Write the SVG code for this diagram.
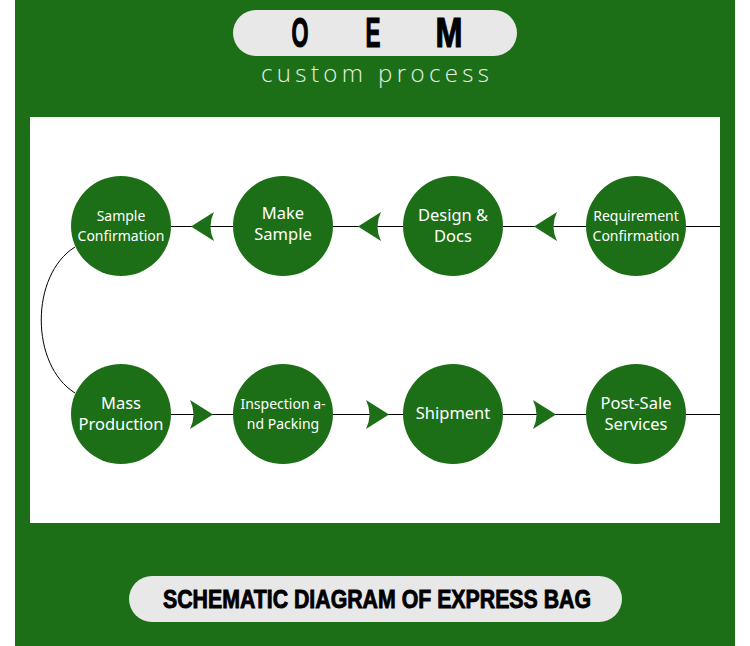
<svg xmlns="http://www.w3.org/2000/svg" width="750" height="646" viewBox="0 0 750 646">
<defs>
<style>
.bg{fill:#1d6f17}
.pill{fill:#e8e8e8}
.node{fill:#1d6f17}
.lbl{font-family:"Noto Sans","DejaVu Sans",sans-serif;fill:#ffffff;text-anchor:middle}
.s14{font-size:14px}
.s17{font-size:16.5px}
.line{stroke:#000;stroke-width:1;fill:none}
.arrow{fill:#1d6f17}
.oem{font-family:"Liberation Sans",Arial,sans-serif;font-weight:bold;font-size:42px;fill:#000;stroke:#000;stroke-width:1.2;text-anchor:middle}
</style>
</defs>
<rect x="0" y="0" width="750" height="646" fill="#ffffff"/>
<rect class="bg" x="15" y="0" width="720" height="646"/>
<rect x="30" y="117" width="690" height="406" fill="#ffffff"/>

<g id="title">
<rect class="pill" x="233" y="10" width="284" height="46" rx="23"/>
<text class="oem" x="300" y="47" textLength="17" lengthAdjust="spacingAndGlyphs">O</text>
<text class="oem" x="373" y="47" textLength="15" lengthAdjust="spacingAndGlyphs">E</text>
<text class="oem" x="449" y="47" textLength="27" lengthAdjust="spacingAndGlyphs">M</text>
<text x="261" y="82" font-family="'Open Sans','Lato',sans-serif" font-weight="300" font-size="24" fill="#e6efe6" textLength="228" lengthAdjust="spacing">custom process</text>
</g>

<g id="connectors">
<line class="line" x1="171" y1="226.5" x2="720" y2="226.5"/>
<line class="line" x1="171" y1="414.5" x2="720" y2="414.5"/>
<path class="line" d="M75,247 C30,275 30,365 75,393"/>
<path class="arrow" d="M191,226.5 L214,212 Q207,226.5 214,241 Z"/>
<path class="arrow" d="M358,226.5 L381,212 Q374,226.5 381,241 Z"/>
<path class="arrow" d="M534,226.5 L557,212 Q550,226.5 557,241 Z"/>
<path class="arrow" d="M213,414.5 L190,400 Q197,414.5 190,429 Z"/>
<path class="arrow" d="M389,414.5 L366,400 Q373,414.5 366,429 Z"/>
<path class="arrow" d="M556,414.5 L533,400 Q540,414.5 533,429 Z"/>
</g>

<g id="sample-confirmation">
<circle class="node" cx="121" cy="226" r="50"/>
<text class="lbl s14" x="121" y="221">Sample</text>
<text class="lbl s14" x="121" y="241">Confirmation</text>
</g>
<g id="make-sample">
<circle class="node" cx="283" cy="226" r="50"/>
<text class="lbl s17" x="283" y="219">Make</text>
<text class="lbl s17" x="283" y="240">Sample</text>
</g>
<g id="design-docs">
<circle class="node" cx="453" cy="226" r="50"/>
<text class="lbl s17" x="453" y="221">Design &amp;</text>
<text class="lbl s17" x="453" y="242">Docs</text>
</g>
<g id="requirement-confirmation">
<circle class="node" cx="636" cy="226" r="50"/>
<text class="lbl s14" x="636" y="221">Requirement</text>
<text class="lbl s14" x="636" y="241">Confirmation</text>
</g>
<g id="mass-production">
<circle class="node" cx="121" cy="414" r="50"/>
<text class="lbl s17" x="121" y="409">Mass</text>
<text class="lbl s17" x="121" y="430">Production</text>
</g>
<g id="inspection-packing">
<circle class="node" cx="283" cy="414" r="50"/>
<text class="lbl s14" x="283" y="409">Inspection a-</text>
<text class="lbl s14" x="283" y="429">nd Packing</text>
</g>
<g id="shipment">
<circle class="node" cx="453" cy="414" r="50"/>
<text class="lbl s17" x="453" y="419">Shipment</text>
</g>
<g id="post-sale">
<circle class="node" cx="636" cy="414" r="50"/>
<text class="lbl s17" x="636" y="409">Post-Sale</text>
<text class="lbl s17" x="636" y="430">Services</text>
</g>

<g id="footer">
<rect class="pill" x="129" y="576" width="493" height="46" rx="23"/>
<text x="377" y="608" font-family="'Liberation Sans',Arial,sans-serif" font-weight="bold" font-size="26" fill="#000" stroke="#000" stroke-width="0.9" text-anchor="middle" textLength="428" lengthAdjust="spacingAndGlyphs">SCHEMATIC DIAGRAM OF EXPRESS BAG</text>
</g>
</svg>
